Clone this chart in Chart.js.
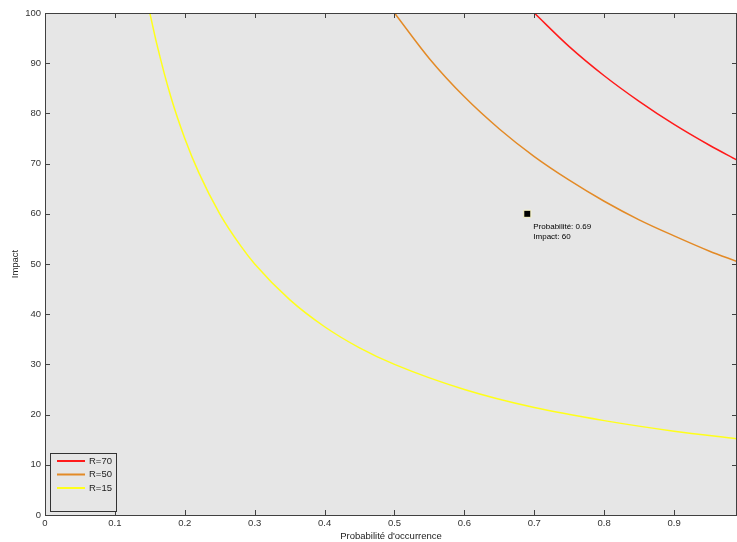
<!DOCTYPE html>
<html>
<head>
<meta charset="utf-8">
<script src="https://cdn.jsdelivr.net/npm/chart.js@4"></script>
<style>
  html, body { margin: 0; padding: 0; background: #fff; }
  #wrap { width: 737px; height: 542px; position: relative; }
</style>
</head>
<body>
<div id="wrap"><canvas id="chart"></canvas></div>
<script>
// values
const seriesNames = ['R=70', 'R=50', 'R=15'];
const seriesColors = ['#ff1a1a', '#e38a26', '#ffff1a'];

const r70X = [0.70, 0.75, 0.80, 0.85, 0.90, 0.95, 0.99];
const r70Y = [100, 93.3, 87.5, 82.4, 77.8, 73.7, 70.7];

const r50X = [0.50, 0.55, 0.60, 0.65, 0.70, 0.75, 0.80, 0.85, 0.90, 0.95, 0.99];
const r50Y = [100, 90.9, 83.3, 76.9, 71.4, 66.7, 62.5, 58.8, 55.6, 52.6, 50.5];

const r15X = [0.15, 0.16, 0.18, 0.20, 0.22, 0.25, 0.28, 0.30, 0.35, 0.40, 0.45, 0.50, 0.60, 0.70, 0.80, 0.90, 0.99];
const r15Y = [100, 93.8, 83.3, 75, 68.2, 60, 53.6, 50, 42.9, 37.5, 33.3, 30, 25, 21.4, 18.8, 16.7, 15.2];

const markX = [0.69];
const markY = [60];
const markLabels = ['Probabilité: 0.69', 'Impact: 60'];

const xTicks = [0, 0.1, 0.2, 0.3, 0.4, 0.5, 0.6, 0.7, 0.8, 0.9];
const yTicks = [0, 10, 20, 30, 40, 50, 60, 70, 80, 90, 100];

const toPoints = (xs, ys) => xs.map((x, i) => ({ x, y: ys[i] }));

const FONT = 'Liberation Sans, Arial, sans-serif';
const AXIS = '#404040';

const frame = {
    id: 'frame',
    beforeDraw(chart) {
        const { ctx, chartArea: a } = chart;
        ctx.save();
        ctx.fillStyle = '#e6e6e6';
        ctx.fillRect(a.left, a.top, a.right - a.left, a.bottom - a.top);
        ctx.restore();
    },
    afterDatasetsDraw(chart) {
        const { ctx, chartArea: a, scales } = chart;
        ctx.save();
        ctx.strokeStyle = AXIS;
        ctx.lineWidth = 1;
        ctx.beginPath();
        ctx.moveTo(a.left, a.top + 0.5);
        ctx.lineTo(a.right, a.top + 0.5);
        ctx.moveTo(a.right - 0.5, a.top);
        ctx.lineTo(a.right - 0.5, a.bottom);
        ctx.stroke();

        // inward ticks on all four sides
        const len = 5;
        ctx.beginPath();
        xTicks.forEach(v => {
            const px = Math.round(scales.x.getPixelForValue(v)) + 0.5;
            ctx.moveTo(px, a.bottom);
            ctx.lineTo(px, a.bottom - len);
            ctx.moveTo(px, a.top);
            ctx.lineTo(px, a.top + len);
        });
        yTicks.forEach(v => {
            const py = Math.round(scales.y.getPixelForValue(v)) + 0.5;
            ctx.moveTo(a.left, py);
            ctx.lineTo(a.left + len, py);
            ctx.moveTo(a.right, py);
            ctx.lineTo(a.right - len, py);
        });
        ctx.stroke();

        // data tip text next to the marker
        const mx = scales.x.getPixelForValue(markX[0]);
        const my = scales.y.getPixelForValue(markY[0]);
        ctx.fillStyle = '#000';
        ctx.font = '8px ' + FONT;
        ctx.textBaseline = 'middle';
        markLabels.forEach((t, i) => ctx.fillText(t, mx + 6, my + 13 + i * 10));

        // legend box, lower left
        const bx = a.left + 5, by = a.bottom - 62, bw = 66, bh = 58;
        ctx.fillStyle = '#e6e6e6';
        ctx.fillRect(bx, by, bw, bh);
        ctx.strokeStyle = '#333';
        ctx.strokeRect(bx + 0.5, by + 0.5, bw, bh);
        ctx.font = '9.5px ' + FONT;
        ctx.fillStyle = '#222';
        ctx.textBaseline = 'middle';
        seriesNames.forEach((name, i) => {
            const ly = by + 8 + i * 13.5;
            ctx.strokeStyle = seriesColors[i];
            ctx.lineWidth = 2;
            ctx.beginPath();
            ctx.moveTo(bx + 7, ly);
            ctx.lineTo(bx + 35, ly);
            ctx.stroke();
            ctx.fillText(name, bx + 39, ly);
        });
        ctx.restore();
    }
};

const curve = (label, data, color) => ({
    label,
    data,
    borderColor: color,
    backgroundColor: color,
    borderWidth: 1.5,
    showLine: true,
    pointRadius: 0,
    cubicInterpolationMode: 'monotone',
    fill: false
});

new Chart(document.getElementById('chart'), {
    type: 'scatter',
    data: {
        datasets: [
            curve(seriesNames[0], toPoints(r70X, r70Y), seriesColors[0]),
            curve(seriesNames[1], toPoints(r50X, r50Y), seriesColors[1]),
            curve(seriesNames[2], toPoints(r15X, r15Y), seriesColors[2]),
            {
                label: 'point',
                data: toPoints(markX, markY),
                pointStyle: 'rect',
                pointRadius: 5,
                backgroundColor: '#000',
                borderColor: '#fffbc8',
                borderWidth: 1
            }
        ]
    },
    options: {
        responsive: true,
        maintainAspectRatio: false,
        animation: false,
        layout: { autoPadding: false, padding: { top: 13, right: 0, left: 0, bottom: 0 } },
        plugins: {
            legend: { display: false },
            tooltip: { enabled: false }
        },
        scales: {
            x: {
                type: 'linear',
                min: 0,
                max: 0.99,
                afterBuildTicks: s => { s.ticks = xTicks.map(value => ({ value })); },
                afterFit: s => { s.height = 27; s.paddingRight = 0; s.paddingLeft = 0; },
                grid: { display: true, drawOnChartArea: false, drawTicks: false },
                border: { color: AXIS },
                ticks: {
                    color: '#333',
                    font: { family: FONT, size: 9.5 },
                    padding: 3,
                    maxRotation: 0,
                    callback: v => String(Number(v.toFixed(1)))
                },
                title: {
                    display: true,
                    text: "Probabilité d'occurrence",
                    color: '#222',
                    font: { family: FONT, size: 9.5 },
                    padding: { top: 0, bottom: 0 }
                }
            },
            y: {
                min: 0,
                max: 100,
                afterBuildTicks: s => { s.ticks = yTicks.map(value => ({ value })); },
                afterFit: s => { s.width = 45; },
                grid: { display: true, drawOnChartArea: false, drawTicks: false },
                border: { color: AXIS },
                ticks: {
                    color: '#333',
                    font: { family: FONT, size: 9.5 },
                    padding: 4
                },
                title: {
                    display: true,
                    text: 'Impact',
                    color: '#222',
                    font: { family: FONT, size: 9.5 },
                    padding: { top: 10, bottom: 0 }
                }
            }
        }
    },
    plugins: [frame]
});
</script>
</body>
</html>
